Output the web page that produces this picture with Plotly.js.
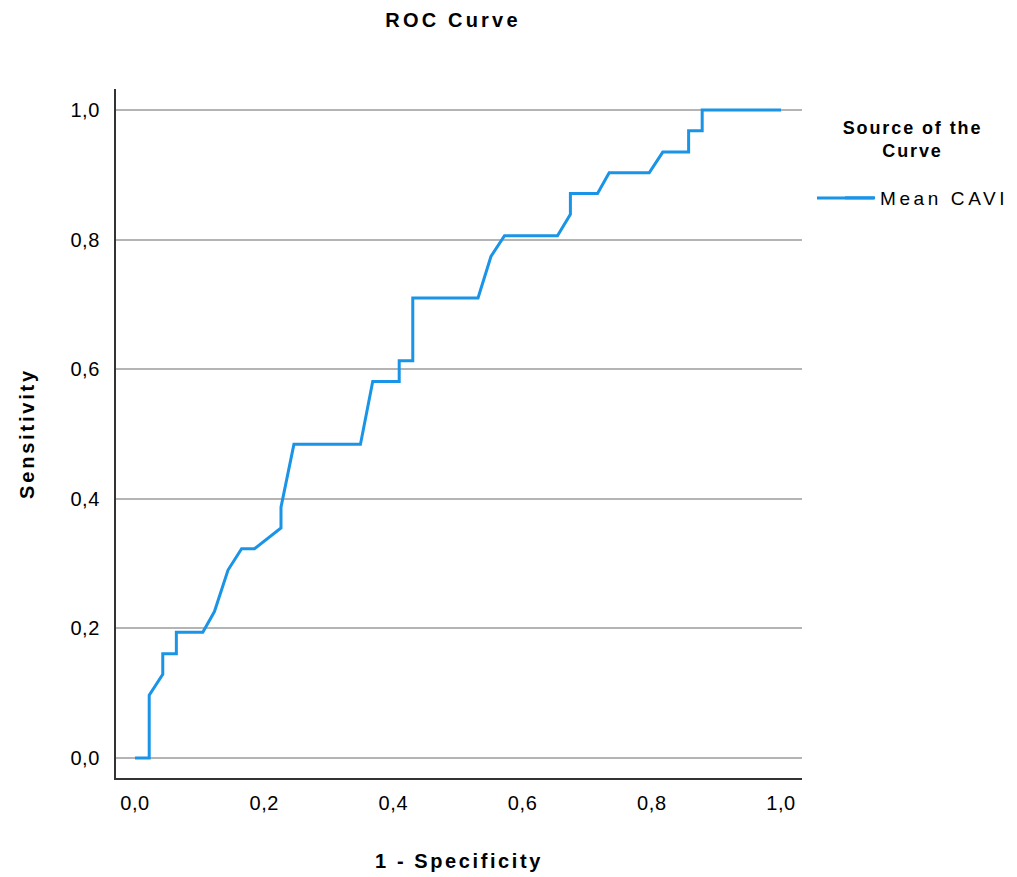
<!DOCTYPE html>
<html>
<head>
<meta charset="utf-8">
<script src="https://cdn.plot.ly/plotly-3.0.1.min.js"></script>
<style>
  html, body { margin: 0; padding: 0; background: #ffffff; }
  #chart { width: 1017px; height: 877px; }
  #chart text.gtitle { letter-spacing: 3.2px; }
  #chart text.xtitle { letter-spacing: 2.6px; }
  #chart text.ytitle { letter-spacing: 2.8px; }
  #chart .xtick text, #chart .ytick text { letter-spacing: 0.6px; }
  #chart text.legendtext { letter-spacing: 3.6px; }
  #chart .annotation-text { letter-spacing: 1.9px; }
</style>
</head>
<body>
<div id="chart"></div>
<script>
// 1 - Specificity (false positive rate)
const fpr = [0, 0.022, 0.022, 0.043, 0.043, 0.064, 0.064, 0.105, 0.123, 0.144, 0.165, 0.185,
             0.226, 0.226, 0.246, 0.349, 0.368, 0.409, 0.409, 0.430, 0.430, 0.531, 0.551, 0.572,
             0.654, 0.674, 0.674, 0.716, 0.734, 0.796, 0.817, 0.857, 0.857, 0.878, 0.878, 1.0];
// Sensitivity (true positive rate)
const tpr = [0, 0, 0.097, 0.129, 0.161, 0.161, 0.194, 0.194, 0.226, 0.290, 0.323, 0.323,
             0.355, 0.387, 0.484, 0.484, 0.581, 0.581, 0.613, 0.613, 0.710, 0.710, 0.774, 0.806,
             0.806, 0.839, 0.871, 0.871, 0.903, 0.903, 0.935, 0.935, 0.968, 0.968, 1.0, 1.0];
const seriesName = "Mean CAVI";
const legendTitle = "Source of the<br>Curve";
const tickVals = [0, 0.2, 0.4, 0.6, 0.8, 1.0];

const FONT = "Liberation Sans, Arial, sans-serif";
const BLUE = "#1a94e6";

const trace = {
  x: fpr, y: tpr, type: "scatter", mode: "lines", name: seriesName,
  line: { color: BLUE, width: 3, shape: "linear" }
};

// plot area in pixels: x 116..802, y 89..778
const legendLineY = (778 - 198) / 689;

const layout = {
  width: 1017, height: 877,
  paper_bgcolor: "#ffffff", plot_bgcolor: "#ffffff",
  separators: ", ",
  font: { family: FONT, color: "#000000", size: 19 },
  margin: { l: 116, r: 215, t: 89, b: 99, pad: 0, autoexpand: false },
  title: {
    text: "<b>ROC Curve</b>", font: { family: FONT, size: 20, color: "#000" },
    xref: "container", x: 453 / 1017, xanchor: "center",
    yref: "container", y: 1 - 20 / 877, yanchor: "middle"
  },
  xaxis: {
    range: [-0.0294, 1.0325], tickvals: tickVals, tickformat: ".1f",
    showgrid: false, zeroline: false,
    showline: true, linecolor: "#333333", linewidth: 2, mirror: false,
    ticks: "", ticklabelstandoff: 6,
    tickfont: { family: FONT, size: 20, color: "#000" },
    title: { text: "<b>1 - Specificity</b>", font: { family: FONT, size: 20, color: "#000" }, standoff: 41 }
  },
  yaxis: {
    range: [-0.0309, 1.0324], tickvals: tickVals, tickformat: ".1f",
    showgrid: true, gridcolor: "#b4b4b4", gridwidth: 2, zeroline: false,
    showline: true, linecolor: "#333333", linewidth: 2, mirror: false,
    ticks: "", ticklabelstandoff: 10,
    tickfont: { family: FONT, size: 20, color: "#000" },
    title: { text: "<b>Sensitivity</b>", font: { family: FONT, size: 20, color: "#000" }, standoff: 32 }
  },
  showlegend: true,
  legend: {
    orientation: "h", entrywidthmode: "pixels", entrywidth: 135,
    x: (840 - 116) / 686, xanchor: "left", y: legendLineY, yanchor: "middle",
    bgcolor: "rgba(0,0,0,0)", borderwidth: 0,
    font: { family: FONT, size: 19, color: "#000" }
  },
  annotations: [{
    text: "<b>" + legendTitle + "</b>", xref: "paper", yref: "paper",
    x: (912 - 116) / 686, xanchor: "center", y: (778 - 116) / 689, yanchor: "top",
    showarrow: false, align: "center",
    font: { family: FONT, size: 18, color: "#000" }
  }],
  shapes: [{
    type: "line", xref: "paper", yref: "paper", layer: "above",
    x0: (817 - 116) / 686, x1: (874 - 116) / 686, y0: legendLineY, y1: legendLineY,
    line: { color: BLUE, width: 3 }
  }]
};

Plotly.newPlot("chart", [trace], layout, { displayModeBar: false, staticPlot: true });
</script>
</body>
</html>
